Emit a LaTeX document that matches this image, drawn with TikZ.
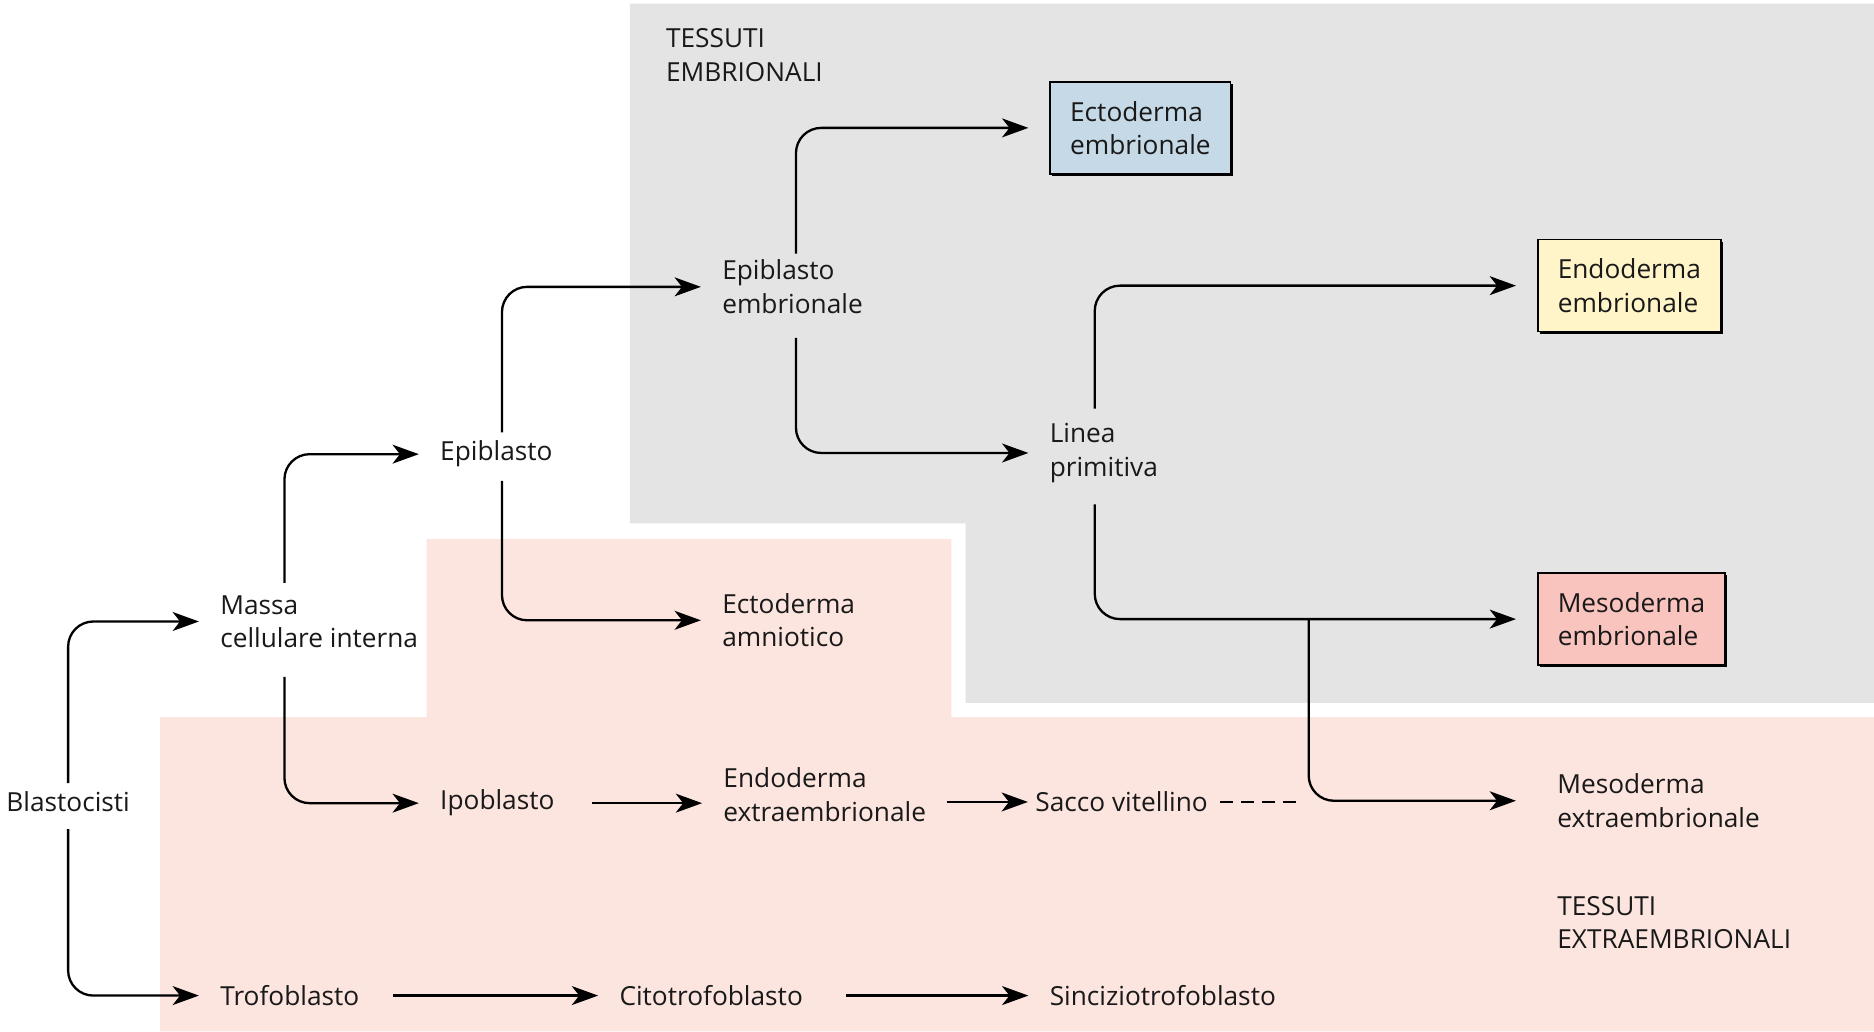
\documentclass[tikz,border=0pt]{standalone}
\usepackage{fontspec}
\setmainfont{Open Sans}
\usetikzlibrary{positioning, arrows.meta, calc, backgrounds, shadows}

\definecolor{embgray}{HTML}{E4E4E4}
\definecolor{extpink}{HTML}{FCE4DF}
\definecolor{ectoblue}{HTML}{C6D9E6}
\definecolor{endoyellow}{HTML}{FFF5C8}
\definecolor{mesored}{HTML}{F9C4BE}

\begin{document}
\begin{tikzpicture}[x=0.02cm, y=-0.02cm,
  txt/.style={inner sep=0pt, anchor=west, align=left, text=black!90,
              font=\fontsize{12.5}{15.9}\selectfont},
  tbox/.style={txt, draw=black, line width=0.8pt, inner xsep=9.5pt, minimum height=1.54cm,
               drop shadow={shadow xshift=1pt, shadow yshift=-1pt, fill=black, opacity=1}},
  tnote/.style={txt, inner xsep=9.5pt},
  arr/.style={-{Stealth[length=12.5pt, width=9pt, inset=3.5pt]}, line width=1.1pt,
              rounded corners=12pt, shorten >=10pt},
  dashline/.style={line width=0.7pt, dash pattern=on 6pt off 4pt},
]
\useasboundingbox (0,0) rectangle (1568,863);

% Background regions
\begin{scope}[on background layer]
\fill[embgray] (527,3) -- (1568,3) -- (1568,588) -- (808,588) -- (808,438) -- (527,438) -- cycle;
\fill[extpink] (357,451) -- (796,451) -- (796,600) -- (1568,600) -- (1568,863)
               -- (134,863) -- (134,600) -- (357,600) -- cycle;
\end{scope}

% Region labels
\node[txt] (embr) at (557,46) {TESSUTI\\EMBRIONALI};
\node[tnote] (extr) at (1286,772) {TESSUTI\\EXTRAEMBRIONALI};

% Early stages
\node[txt] (blast) at (5,671) {Blastocisti};
\node[txt] (icm) at (184,520) {Massa\\cellulare interna};
\node[txt] (troph) at (184,833) {Trofoblasto};
\node[txt] (epi) at (368,380) {Epiblasto};
\node[txt] (hypo) at (368,672) {Ipoblasto};

% Second row
\node[txt] (epiemb) at (604,240) {Epiblasto\\embrionale};
\node[txt] (ectoamn) at (604,519) {Ectoderma\\amniotico};
\node[txt] (endoex) at (605,665) {Endoderma\\extraembrionale};
\node[txt] (cyto) at (518,833) {Citotrofoblasto};

% Third row
\node[txt] (prim) at (878,379) {Linea\\primitiva};
\node[txt] (yolk) at (866,671) {Sacco vitellino};
\node[txt] (syncy) at (878,833) {Sinciziotrofoblasto};

% Germ layers
\node[tbox, fill=ectoblue] (ectoemb) at (878,107) {Ectoderma\\embrionale};
\node[tbox, fill=endoyellow] (endoemb) at (1286,239) {Endoderma\\embrionale};
\node[tbox, fill=mesored] (mesoemb) at (1286,518) {Mesoderma\\embrionale};
\node[tnote] (mesoex) at (1286,670) {Mesoderma\\extraembrionale};

% Branching arrows
\draw[arr] ($(blast.north west)+(52,-7)$) |- (icm.west);
\draw[arr] ($(blast.south west)+(52,14)$) |- (troph.west);
\draw[arr] ($(icm.north west)+(54,-10)$) |- (epi.west);
\draw[arr] ($(icm.south west)+(54,24)$) |- (hypo.west);
\draw[arr] ($(epi.north west)+(52,-7)$) |- (epiemb.west);
\draw[arr] ($(epi.south west)+(52,11)$) |- (ectoamn.west);
\draw[arr] ($(epiemb.north west)+(62,-5)$) |- (ectoemb.west);
\draw[arr] ($(epiemb.south west)+(62,20)$) |- (prim.west);
\draw[arr] ($(prim.north west)+(38,-12)$) |- (endoemb.west);
\draw[arr] ($(prim.south west)+(38,18)$) |- (mesoemb.west);

% Split to extraembryonic mesoderm
\coordinate (split) at ($(mesoemb.west)+(-191,0)$);
\draw[arr] (split) |- (mesoex.west);

% Straight arrows
\draw[arr, shorten <=17.6pt] (hypo.east) -- (hypo.east -| endoex.west);
\draw[arr, shorten <=9.6pt, shorten >=3.4pt] (endoex.east |- yolk.west) -- (yolk.west);
\draw[dashline, shorten <=5.7pt] (yolk.east) -- ($(split |- yolk.east)+(-8,0)$);
\draw[arr, shorten <=15.9pt] (troph.east) -- (cyto.west);
\draw[arr, shorten <=20.4pt] (cyto.east) -- (syncy.west);

\end{tikzpicture}
\end{document}
